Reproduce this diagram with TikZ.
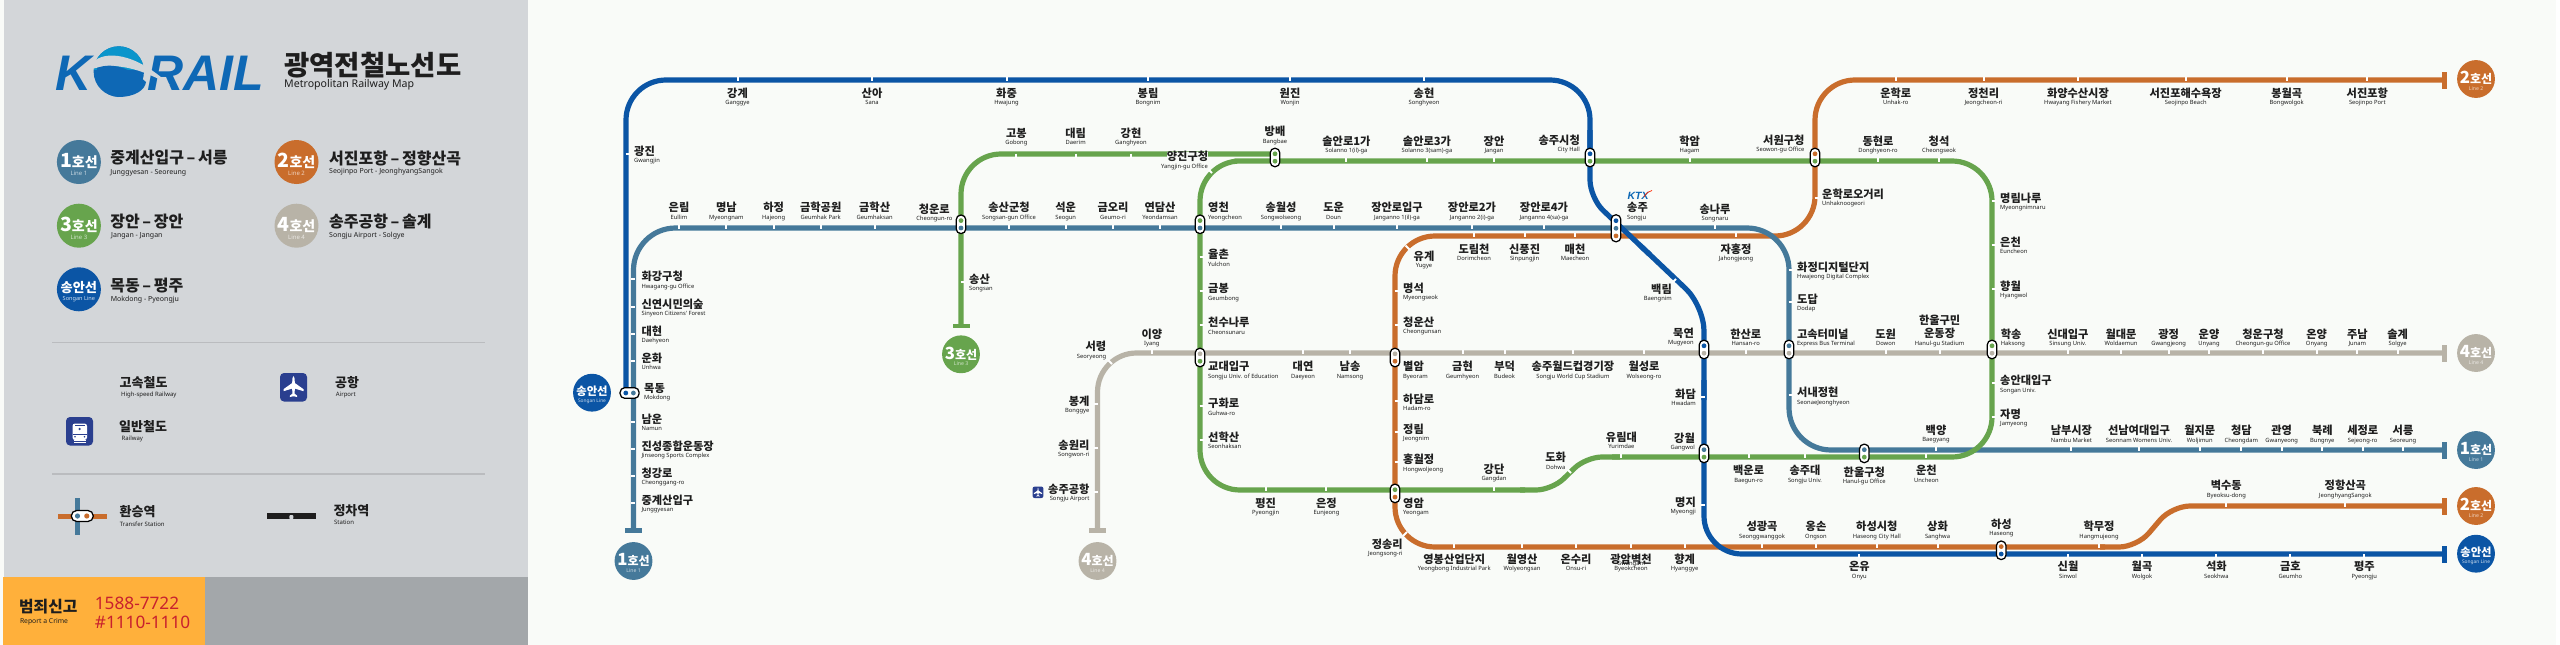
\documentclass[tikz,border=0pt]{standalone}
\usepackage{fontspec}
\newfontfamily\kofont{Noto Sans CJK KR}
\newfontfamily\enfont{Noto Sans}
\newfontfamily\logofont{Liberation Sans}
\definecolor{bgc}{HTML}{F9FBF8}
\definecolor{panel}{HTML}{D3D6D9}
\definecolor{panelb}{HTML}{A3A7AA}
\definecolor{orangeb}{HTML}{FFB03B}
\definecolor{crimered}{HTML}{C8202E}
\definecolor{lone}{HTML}{45799A}
\definecolor{ltwo}{HTML}{C96D2C}
\definecolor{lthree}{HTML}{67A44D}
\definecolor{lfour}{HTML}{B8B3A7}
\definecolor{lsong}{HTML}{0B55A5}
\definecolor{icon}{HTML}{2A3F8F}
\definecolor{kblue}{HTML}{0E68B5}
\definecolor{ink}{HTML}{1E1E1E}
\tikzset{
 ko/.style={inner sep=0pt,text=ink,font=\fontsize{11.2}{12}\selectfont\kofont\bfseries,text height=9.3pt,text depth=1pt},
 en/.style={inner sep=0pt,text=ink,font=\fontsize{5.8}{5.8}\selectfont\enfont,text height=4.6pt,text depth=1.2pt,align=center},
 lko/.style={inner sep=0pt,text=ink,font=\fontsize{16}{16}\selectfont\kofont\bfseries,anchor=west},
 len/.style={inner sep=0pt,text=ink,font=\fontsize{7}{8}\selectfont\enfont,anchor=west},
 sko/.style={inner sep=0pt,text=ink,font=\fontsize{13}{14}\selectfont\kofont\bfseries,anchor=west},
 sen/.style={inner sep=0pt,text=ink,font=\fontsize{6}{7}\selectfont\enfont,anchor=west},
 railline/.style={line width=5.2pt,line cap=butt,line join=round},
 pill/.style={draw=black,line width=1.25pt,fill=white,rounded corners=4.6pt,inner sep=0pt,minimum width=9.6pt},
 tick/.style={draw=white,line width=2pt},
 badgec/.style={circle,inner sep=0pt,minimum size=44pt,transform shape},
 bmain/.style={inner sep=0pt,text=white,transform shape},
 bsub/.style={inner sep=0pt,transform shape,font=\fontsize{6}{6}\selectfont\enfont},
 tbarv/.style={inner sep=0pt,minimum width=4.6pt,minimum height=17pt},
 tbarh/.style={inner sep=0pt,minimum width=17pt,minimum height=4.6pt},
}
\newcommand\lab[6]{\node[ko,anchor=#2] (#1) at (#3,#4) {#5};\node[en,anchor=#2] (#1e) at (#3,#4+9.9) {#6};}
\newcommand\ipv[6]{\node[pill,minimum height=#6pt] (#1) at (#2,#3) {};\fill[#4] (#2,#3-3.7) circle (2.4pt);\fill[#5] (#2,#3+3.7) circle (2.4pt);}
\newcommand\badge[7]{%
 \node[badgec,scale=#4,fill=#5] (#1) at (#2,#3) {};
 \node[bmain,scale=#4] (#1m) at (#2,#3-1*#4) {\fontsize{19.5}{20}\selectfont\kofont\bfseries #6\fontsize{14}{14}\selectfont 호선};
 \node[bsub,scale=#4,text=white!70!#5] (#1s) at (#2,#3+11.3*#4) {#7};}
\newcommand\sbadge[5]{%
 \node[badgec,scale=#4,fill=#5] (#1) at (#2,#3) {};
 \node[bmain,scale=#4] (#1m) at (#2,#3-1.5*#4) {\fontsize{13.2}{14}\selectfont\kofont\bfseries 송안선};
 \node[bsub,scale=#4,text=white!80!#5] (#1s) at (#2,#3+10*#4) {\fontsize{5.6}{6}\selectfont Songan Line};}
\newcommand\planeshape{(0,-11) .. controls (1.1,-10) and (1.2,-8) .. (1.3,-4) -- (10,2.2) -- (10,4.2) -- (1.4,1.6) -- (1,6.6) -- (3.6,8.6) -- (3.6,10) -- (0,9.2) -- (-3.6,10) -- (-3.6,8.6) -- (-1,6.6) -- (-1.4,1.6) -- (-10,4.2) -- (-10,2.2) -- (-1.3,-4) .. controls (-1.2,-8) and (-1.1,-10) .. (0,-11) -- cycle}
\begin{document}
\begin{tikzpicture}[x=1pt,y=-1pt]
\useasboundingbox (0,0) rectangle (2560,645);
\fill[white] (0,0) rectangle (2560,645);
\fill[bgc] (0,0) rectangle (2556,645);
\fill[panel] (4,0) rectangle (528,645);
\fill[panelb] (205,577) rectangle (528,645);
\fill[orangeb] (3.4,577) rectangle (205,645);

% ---------- legend ----------
\node[inner sep=0pt,anchor=base west,text=kblue,font=\fontsize{50}{50}\selectfont\logofont\bfseries\itshape] (logok) at (55,90.7) {K};
\node[inner sep=0pt,anchor=base west,text=kblue,font=\fontsize{50}{50}\selectfont\logofont\bfseries\itshape] (logor) at (147,90.7) {RAIL};
\fill[kblue] (118.8,71.5) circle (25.2pt);
\begin{scope}
\clip (118.8,71.5) circle (25.2pt);
\fill[kblue!70!cyan] (90,40) rectangle (146,70);
\end{scope}
\fill[panel] (92,63) .. controls (104,50) and (135,52) .. (170,85) .. controls (140,68) and (115,62) .. (92,69) -- cycle;
\fill[kblue] (97,68) .. controls (112,62) and (130,68) .. (146,82) .. controls (145,90) and (135,97) .. (118,97) .. controls (104,96) and (95,84) .. (97,68) -- cycle;
\node[inner sep=0pt,anchor=west,text=ink,font=\fontsize{27.5}{28}\selectfont\kofont\bfseries] (title) at (284,65) {광역전철노선도};
\node[inner sep=0pt,anchor=west,text=ink,font=\fontsize{10.6}{12}\selectfont\enfont\bfseries] (subtitle) at (284,85) {Metropolitan Railway Map};

\badge{lg1}{78.9}{162}{1}{lone}{1}{Line 1}
\badge{lg2}{296.5}{162}{1}{ltwo}{2}{Line 2}
\badge{lg3}{78.9}{225.7}{1}{lthree}{3}{Line 3}
\badge{lg4}{296.5}{225.7}{1}{lfour}{4}{Line 4}
\sbadge{lgs}{78.9}{289.3}{1}{lsong}
\node[lko] (lt1) at (110.2,158) {중계산입구\,–\,서릉};
\node[len] (le1) at (110.2,172.7) {Junggyesan - Seoreung};
\node[lko] (lt2) at (329,158) {서진포항\,–\,정향산곡};
\node[len] (le2) at (329,172) {Seojinpo Port - JeonghyangSangok};
\node[lko] (lt3) at (110.2,221.7) {장안\,–\,장안};
\node[len] (le3) at (111,236.3) {Jangan - Jangan};
\node[lko] (lt4) at (329,221.7) {송주공항\,–\,솔계};
\node[len] (le4) at (329,236) {Songju Airport - Solgye};
\node[lko] (lt5) at (110.2,285.7) {목동\,–\,평주};
\node[len] (le5) at (110.6,300) {Mokdong - Pyeongju};
\draw[panel!88!black,line width=1pt] (52,342.3) -- (485,342.3);
\draw[panel!88!black,line width=1.4pt] (52,474) -- (485,474);
\node[sko] (lhs) at (119.5,382.7) {고속철도};
\node[sen] (lhse) at (121,395) {High-speed Railway};
\node[sko] (lap) at (335,382.3) {공항};
\node[sen] (lape) at (335.7,395) {Airport};
\node[sko] (lrw) at (119,426.7) {일반철도};
\node[sen] (lrwe) at (121.5,439) {Railway};
\node[sko] (ltr) at (119.5,511.7) {환승역};
\node[sen] (ltre) at (119.7,524) {Transfer Station};
\node[sko] (lst) at (333.3,510.7) {정차역};
\node[sen] (lste) at (334,522.7) {Station};
% airport icon
\fill[icon,rounded corners=4pt] (280,373) rectangle (307,401.5);
\begin{scope}[shift={(293.5,387)},scale=1]
\fill[white] \planeshape;
\end{scope}
% rail icon
\fill[icon,rounded corners=4pt] (66,417) rectangle (93,445.5);
\fill[white,rounded corners=2.5pt] (72.5,423.5) rectangle (87,440);
\fill[icon] (75,425.2) rectangle (84.6,426.2);
\fill[icon] (79.6,429) circle (1.3pt);
\fill[icon] (72.5,434.2) rectangle (87,435);
\fill[icon] (75,436.8) circle (0.9pt);\fill[icon] (84.5,436.8) circle (0.9pt);
\fill[white] (74,440) rectangle (85.5,443);
\fill[icon] (72,441) rectangle (88,441.7);
% transfer icon
\draw[ltwo,line width=5pt] (58,516) -- (107,516);
\draw[lone,line width=5pt] (77.5,498) -- (77.5,534.7);
\node[pill,minimum width=22pt,minimum height=11pt,rounded corners=5.4pt] (ltpill) at (82.3,516) {};
\fill[lone] (77.5,516) circle (2.6pt);
\fill[ltwo] (86.8,516) circle (2.6pt);
% station icon
\fill[ink] (267,513.3) rectangle (316,519);
\fill[panel,rounded corners=1pt] (289.4,519.2) -- (289.4,515) -- (293.4,515) -- (293.4,519.2) -- cycle;
% report box
\node[inner sep=0pt,anchor=west,text=ink,font=\fontsize{15.8}{16}\selectfont\kofont\bfseries] (crimek) at (19,606.7) {범죄신고};
\node[inner sep=0pt,anchor=west,text=ink,font=\fontsize{6.8}{7}\selectfont\enfont] (crimee) at (19.8,622.3) {Report a Crime};
\node[inner sep=0pt,anchor=west,text=crimered,font=\fontsize{17.2}{18}\selectfont\enfont\bfseries] (crimea) at (94.7,603.3) {1588-7722};
\node[inner sep=0pt,anchor=west,text=crimered,font=\fontsize{17.2}{18}\selectfont\enfont\bfseries] (crimeb) at (94.7,622) {\#1110-1110};

% ---------- line ends ----------
\node[tbarh,fill=lone] (e1a) at (633.5,530.5) {};
\node[tbarv,fill=lone] (e1b) at (2444.5,450) {};
\node[tbarv,fill=ltwo] (e2a) at (2444.5,80) {};
\node[tbarv,fill=ltwo] (e2b) at (2444.5,506) {};
\node[tbarh,fill=lthree] (e3a) at (961,326) {};
\node[tbarh,fill=lfour] (e4a) at (1097.5,530.5) {};
\node[tbarv,fill=lfour] (e4b) at (2444.5,353) {};
\node[tbarv,fill=lsong] (esb) at (2444.5,554) {};
\coordinate (sa) at (626,393);
\coordinate (b1) at (1275,154);
\coordinate (b2) at (1275,161);

% ---------- lines ----------
\draw[railline,lfour,rounded corners=39pt] (e4a.center) -- (1097.5,353) -- (e4b.center);
\draw[railline,ltwo,rounded corners=40pt] (e2a.center) -- (1815,80) -- (1815,236) -- (1395,236) -- (1395,547) -- (2105,547);
\draw[railline,ltwo,rounded corners=18pt] (2100,547) -- (2137,547) -- (2172,506) -- (e2b.center);
\draw[railline,lone,rounded corners=42pt] (e1a.center) -- (633.5,228) -- (1789,228) -- (1789,450) -- (e1b.center);
\draw[railline,lthree,rounded corners=40pt] (e3a.center) -- (961,154) -- (b1);
\draw[railline,lthree,rounded corners=40pt] (1525,490) -- (1200,490) -- (1200,161) -- (b2) -- (1992,161) -- (1992,457) -- (1612,457);
\draw[railline,lthree,rounded corners=16pt] (1520,490) -- (1552,490) -- (1586,457) -- (1620,457);
\draw[railline,lsong,rounded corners=40pt] (sa) -- (626,80) -- (1590,80) -- (1590,150);
\draw[railline,lsong,rounded corners=18pt] (1590,130) -- (1590,198) -- (1650,254.8);
\draw[railline,lsong,rounded corners=25pt] (1640,245.3) -- (1704,306) -- (1704,400);
\draw[railline,lsong,rounded corners=38pt] (1704,380) -- (1704,554) -- (esb.center);

% ---------- ticks ----------
\foreach \x in {737.5,872,1006.5,1148,1290,1424,1895.7,1983.6,2077.9,2185.7,2286.7,2367.3}
  \draw[tick] (\x,76.5) -- (\x,80.5);
\foreach \x in {679,726.4,773.6,820.7,874.6,1009,1065.7,1113,1160,1281,1333.6,1397,1472,1544,1715}
  \draw[tick] (\x,224.5) -- (\x,228.5);
\foreach \x in {1016.4,1075.7,1131}
  \draw[tick] (\x,153.5) -- (\x,157.5);
\foreach \x in {1346.4,1427,1494,1689.6,1878,1939}
  \draw[tick] (\x,157.5) -- (\x,161.5);
\foreach \x in {1152,1303,1350,1462.5,1504.6,1572.9,1644,1745.7,1885.7,1939.6,2067.9,2121,2168.6,2209,2263,2316.7,2357.3,2397.7}
  \draw[tick] (\x,349.5) -- (\x,353.5);
\foreach \x in {1474,1524.6,1575,1736}
  \draw[tick] (\x,232.5) -- (\x,236.5);
\foreach \x in {1265.7,1326.4,1494}
  \draw[tick] (\x,486.5) -- (\x,490.5);
\foreach \x in {1621.4,1748.6,1805,1926.4}
  \draw[tick] (\x,453.5) -- (\x,457.5);
\foreach \x in {1936,2071.4,2139,2199.7,2241.3,2281.7,2322.3,2362.7,2403}
  \draw[tick] (\x,446.5) -- (\x,450.5);
\foreach \x in {1454.3,1522,1576,1631,1684.6,1762,1816,1876.8,1937.5,2099}
  \draw[tick] (\x,543.5) -- (\x,547.5);
\foreach \x in {2226.3,2345.3}
  \draw[tick] (\x,502.5) -- (\x,506.5);
\foreach \x in {1859.3,2068,2142,2216.3,2290.3,2364.3}
  \draw[tick] (\x,554) -- (\x,558);
\foreach \y in {279,306.7,333.7,360.7,421.7,448.7,475.7,503}
  \draw[tick] (630.8,\y) -- (635,\y);
\draw[tick] (625.5,154) -- (629.5,154);
\draw[tick] (960.5,281.7) -- (964.5,281.7);
\foreach \y in {257.3,291.3,325.3,406.3,440}
  \draw[tick] (1199.5,\y) -- (1203.5,\y);
\foreach \y in {290.7,324.7,401.3,431.7,462.3}
  \draw[tick] (1394.5,\y) -- (1398.5,\y);
\foreach \y in {201,244.7,289,383.3,416.7}
  \draw[tick] (1991.5,\y) -- (1995.5,\y);
\foreach \y in {269.7,301.7,395.3}
  \draw[tick] (1788.5,\y) -- (1792.5,\y);
\draw[tick] (1814.5,197.7) -- (1818.5,197.7);
\foreach \y in {404,448,492}
  \draw[tick] (1094,\y) -- (1098,\y);
\foreach \y in {397,505}
  \draw[tick] (1700.5,\y) -- (1704.5,\y);
\draw[tick] (1208.5,169.5) -- (1212,173);
\draw[tick] (1405.5,245.5) -- (1409.5,249.5);
\draw[tick] (1108,360) -- (1112,364);
\draw[tick] (1403,536) -- (1407,532);
\draw[tick] (1672,283) -- (1676,279);
\draw[tick] (1567.5,469.5) -- (1571,473);

% ---------- interchanges ----------
\ipv{i01}{961}{224.3}{lthree}{lone}{18.5}
\ipv{i02}{1200}{224.3}{lthree}{lone}{18.5}
\ipv{i03}{1275}{157.5}{lthree}{lthree}{18.5}
\ipv{i04}{1590}{157.5}{lsong}{lthree}{18.5}
\ipv{i05}{1815}{157.5}{ltwo}{lthree}{18.5}
\ipv{i06}{1704}{349.5}{lsong}{lfour}{18.5}
\ipv{i07}{1789}{349.5}{lone}{lfour}{18.5}
\ipv{i08}{1992}{349.5}{lthree}{lfour}{18.5}
\ipv{i09}{1200}{357.5}{lfour}{lthree}{18.5}
\ipv{i10}{1395}{357.5}{lfour}{ltwo}{18.5}
\ipv{i11}{1395}{493.4}{lthree}{ltwo}{18.5}
\ipv{i12}{1704}{453.4}{lone}{lthree}{18.5}
\ipv{i13}{1864.3}{453.4}{lone}{lthree}{18.5}
\ipv{i14}{2001.2}{550.3}{ltwo}{lsong}{18.5}
\node[pill,minimum height=27pt] (i15) at (1616,228.3) {};
\fill[lsong] (1616,220.7) circle (2.4pt);
\fill[lone] (1616,228.3) circle (2.4pt);
\fill[ltwo] (1616,235.9) circle (2.4pt);
\node[pill,minimum width=19pt,minimum height=10.6pt] (i16) at (629.6,393) {};
\fill[lsong] (625.8,393) circle (2.4pt);
\fill[lone] (633.4,393) circle (2.4pt);

% ---------- terminals ----------
\badge{b1a}{633.5}{561}{.86}{lone}{1}{Line 1}
\badge{b4a}{1097.5}{561}{.86}{lfour}{4}{Line 4}
\badge{b3a}{961}{354.3}{.86}{lthree}{3}{Line 3}
\sbadge{bsa}{592}{392.7}{.86}{lsong}
\badge{b2a}{2476}{79}{.86}{ltwo}{2}{Line 2}
\badge{b4b}{2476}{353}{.86}{lfour}{4}{Line 4}
\badge{b1b}{2476}{450}{.86}{lone}{1}{Line 1}
\badge{b2b}{2476}{506}{.86}{ltwo}{2}{Line 2}
\sbadge{bsb}{2476}{553.7}{.86}{lsong}

% ---------- labels: Songan top ----------
\lab{a1}{center}{737.5}{93}{강계}{Ganggye}
\lab{a2}{center}{872}{93}{산아}{Sana}
\lab{a3}{center}{1006.5}{93}{화중}{Hwajung}
\lab{a4}{center}{1148}{93}{봉림}{Bongnim}
\lab{a5}{center}{1290}{93}{원진}{Wonjin}
\lab{a6}{center}{1424}{93}{송현}{Songhyeon}
\lab{a7}{west}{634}{151}{광진}{Gwangjin}
% Line 1 row
\lab{c1}{center}{679}{207.7}{은림}{Eullim}
\lab{c2}{center}{726.4}{207.7}{명남}{Myeongnam}
\lab{c3}{center}{773.6}{207.7}{하정}{Hajeong}
\lab{c4}{center}{820.7}{207.7}{금학공원}{Geumhak Park}
\lab{c5}{center}{874.6}{207.7}{금학산}{Geumhaksan}
\lab{c6}{center}{934.3}{209}{청운로}{Cheongun-ro}
\lab{c7}{center}{1009}{207.7}{송산군청}{Songsan-gun Office}
\lab{c8}{center}{1065.7}{207.7}{석운}{Seogun}
\lab{c9}{center}{1113}{207.7}{금오리}{Geumo-ri}
\lab{c10}{center}{1160}{207.7}{연담산}{Yeondamsan}
\lab{c11}{west}{1208}{207.7}{영천}{Yeongcheon}
\lab{c12}{center}{1281}{207.7}{송월성}{Songwolseong}
\lab{c13}{center}{1333.6}{207.7}{도운}{Doun}
\lab{c14}{center}{1397}{207.7}{장안로입구}{Janganno 1(il)-ga}
\lab{c15}{center}{1472}{207.7}{장안로2가}{Janganno 2(i)-ga}
\lab{c16}{center}{1544}{207.7}{장안로4가}{Janganno 4(sa)-ga}
\lab{c17}{west}{1627}{207.7}{송주}{Songju}
\lab{c18}{center}{1715}{209}{송나루}{Songnaru}
% Line 1 vertical
\lab{d1}{west}{641.4}{276.7}{화강구청}{Hwagang-gu Office}
\lab{d2}{west}{641.4}{304}{신연시민의숲}{Sinyeon Citizens' Forest}
\lab{d3}{west}{641.4}{331}{대현}{Daehyeon}
\lab{d4}{west}{641.4}{358}{운화}{Unhwa}
\lab{d5}{west}{644}{388}{목동}{Mokdong}
\lab{d6}{west}{641.4}{419}{남운}{Namun}
\lab{d7}{west}{641.4}{446.3}{진성종합운동장}{Jinseong Sports Complex}
\lab{d8}{west}{641.4}{473}{청강로}{Cheonggang-ro}
\lab{d9}{west}{641.4}{500.3}{중계산입구}{Junggyesan}
\lab{d10}{west}{969}{279}{송산}{Songsan}
% Line 3 upper
\lab{f1}{center}{1016.4}{133}{고봉}{Gobong}
\lab{f2}{center}{1075.7}{133}{대림}{Daerim}
\lab{f3}{center}{1131}{133}{강현}{Ganghyeon}
\node[ko,fill=bgc] (f4) at (1187.5,156.7) {양진구청};
\node[en] (f4e) at (1184.5,166.4) {Yangjin-gu Office};
\lab{f5}{center}{1275}{131.7}{방배}{Bangbae}
\lab{f6}{center}{1346.4}{141.3}{솔안로1가}{Solanno 1(il)-ga}
\lab{f7}{center}{1427}{141.3}{솔안로3가}{Solanno 3(sam)-ga}
\lab{f8}{center}{1494}{141.3}{장안}{Jangan}
\lab{f9}{east}{1580}{140.3}{송주시청}{City Hall}
\lab{f10}{center}{1689.6}{141}{학암}{Hagam}
\lab{f11}{east}{1804.6}{140.3}{서원구청}{Seowon-gu Office}
\lab{f12}{center}{1878}{141}{동현로}{Donghyeon-ro}
\lab{f13}{center}{1939}{141}{청석}{Cheongseok}
% Line 2 top
\lab{g1}{center}{1895.7}{93}{운학로}{Unhak-ro}
\lab{g2}{center}{1983.6}{93}{정천리}{Jeongcheon-ri}
\lab{g3}{center}{2077.9}{93}{화양수산시장}{Hwayang Fishery Market}
\lab{g4}{center}{2185.7}{93}{서진포해수욕장}{Seojinpo Beach}
\lab{g5}{center}{2286.7}{93}{봉월곡}{Bongwolgok}
\lab{g6}{center}{2367.3}{93}{서진포항}{Seojinpo Port}
\lab{g7}{west}{1822}{194.3}{운학로오거리}{Unhaknoogeori}
% Line 3 right
\lab{h1}{west}{2000}{198}{명림나루}{Myeongnimnaru}
\lab{h2}{west}{2000}{242}{은천}{Euncheon}
\lab{h3}{west}{2000}{286.3}{향월}{Hyangwol}
\lab{h4}{west}{2000.7}{334}{학송}{Haksong}
\lab{h5}{west}{2000}{380.7}{송안대입구}{Songan Univ.}
\lab{h6}{west}{2000}{414}{자명}{Jamyeong}
% Line 4
\lab{j1}{center}{2067.9}{334}{신대입구}{Sinsung Univ.}
\lab{j2}{center}{2121}{334}{월대문}{Woldaemun}
\lab{j3}{center}{2168.6}{334}{광정}{Gwangjeong}
\lab{j4}{center}{2209}{334}{운양}{Unyang}
\lab{j5}{center}{2263}{334}{청운구청}{Cheongun-gu Office}
\lab{j6}{center}{2316.7}{334}{온양}{Onyang}
\lab{j7}{center}{2357.3}{334}{주남}{Junam}
\lab{j8}{center}{2397.7}{334}{솔계}{Solgye}
\lab{j9}{center}{1745.7}{334}{한산로}{Hansan-ro}
\lab{j10}{center}{1885.7}{334}{도원}{Dowon}
\node[ko] (j11a) at (1939.6,320) {한울구민};
\lab{j11}{center}{1939.6}{333.5}{운동장}{Hanul-gu Stadium}
\lab{j12}{west}{1796.8}{334}{고속터미널}{Express Bus Terminal}
\lab{j13}{east}{1694}{333.3}{묵연}{Mugyeon}
\lab{j14}{center}{1644}{366.7}{월성로}{Wolseong-ro}
\lab{j15}{west}{1208}{366.7}{교대입구}{Songju Univ. of Education}
\lab{j16}{center}{1303}{366.7}{대연}{Daeyeon}
\lab{j17}{center}{1350}{366.7}{남송}{Namsong}
\lab{j18}{west}{1403}{366.7}{별암}{Byeoram}
\lab{j19}{center}{1462.5}{366.7}{금현}{Geumhyeon}
\lab{j20}{center}{1504.6}{366.7}{부덕}{Budeok}
\lab{j21}{center}{1572.9}{366.7}{송주월드컵경기장}{Songju World Cup Stadium}
\lab{j22}{center}{1151.8}{334}{이양}{Iyang}
\lab{j23}{east}{1106.4}{346.7}{서령}{Seoryeong}
\lab{j24}{east}{1089.6}{401}{봉계}{Bonggye}
\lab{j25}{east}{1089.6}{445}{송원리}{Songwon-ri}
\lab{j26}{east}{1089.6}{489}{송주공항}{Songju Airport}
\fill[icon,rounded corners=2pt] (1032.6,486.6) rectangle (1043.4,498);
\begin{scope}[shift={(1038,492.3)},scale=.42]
\fill[white] \planeshape;
\end{scope}
% Line 3 left
\lab{k1}{west}{1208}{254.7}{율촌}{Yulchon}
\lab{k2}{west}{1208}{288.7}{금봉}{Geumbong}
\lab{k3}{west}{1208}{322.7}{천수나루}{Cheonsunaru}
\lab{k4}{west}{1208}{403.7}{구화로}{Guhwa-ro}
\lab{k5}{west}{1208}{437.3}{선학산}{Seonhaksan}
\lab{k6}{center}{1265.7}{503}{평진}{Pyeongjin}
\lab{k7}{center}{1326.4}{503}{은정}{Eunjeong}
\lab{k8}{west}{1403}{503}{영암}{Yeongam}
\lab{k9}{center}{1494}{469.3}{강단}{Gangdan}
\lab{k10}{center}{1555.7}{457.7}{도화}{Dohwa}
\lab{k11}{center}{1621.4}{437.3}{유림대}{Yurimdae}
\lab{k12}{east}{1695}{438}{강월}{Gangwol}
\lab{k13}{center}{1748.6}{470.7}{백운로}{Baegun-ro}
\lab{k14}{center}{1805}{470.7}{송주대}{Songju Univ.}
\lab{k15}{center}{1864.3}{472}{한울구청}{Hanul-gu Office}
\lab{k16}{center}{1926.4}{470.7}{운천}{Uncheon}
% Line 1 lower
\lab{m1}{center}{1936}{430}{백양}{Baegyang}
\lab{m2}{center}{2071.4}{430.7}{남부시장}{Nambu Market}
\lab{m3}{center}{2139}{430.7}{선남여대입구}{Seonnam Womens Univ.}
\lab{m4}{center}{2199.7}{430.7}{월지문}{Woljimun}
\lab{m5}{center}{2241.3}{430.7}{청담}{Cheongdam}
\lab{m6}{center}{2281.7}{430.7}{관영}{Gwanyeong}
\lab{m7}{center}{2322.3}{430.7}{북례}{Bungnye}
\lab{m8}{center}{2362.7}{430.7}{세정로}{Sejeong-ro}
\lab{m9}{center}{2403}{430.7}{서릉}{Seoreung}
\lab{m10}{west}{1797}{392.7}{서내정현}{SeonaeJeonghyeon}
\lab{m11}{west}{1797}{267.3}{화정디지털단지}{Hwajeong Digital Complex}
\lab{m12}{west}{1797}{299.3}{도답}{Dodap}
% Songan
\lab{n1}{east}{1696}{394}{화담}{Hwadam}
\lab{n2}{east}{1696}{502}{명지}{Myeongji}
\lab{n3}{east}{1672}{289.3}{백림}{Baengnim}
% Line 2 inner
\lab{p1}{center}{1424}{256.3}{유계}{Yugye}
\lab{p2}{center}{1474}{249}{도림천}{Dorimcheon}
\lab{p3}{center}{1524.6}{249}{신풍진}{Sinpungjin}
\lab{p4}{center}{1575}{249}{매천}{Maecheon}
\lab{p5}{center}{1736}{249}{자홍정}{Jahongjeong}
\lab{p6}{west}{1403}{288.3}{명석}{Myeongseok}
\lab{p7}{west}{1403}{322.3}{청운산}{Cheongunsan}
\lab{p8}{west}{1403}{399}{하담로}{Hadam-ro}
\lab{p9}{west}{1403}{429}{정림}{Jeongnim}
\lab{p10}{west}{1403}{459.7}{홍월정}{Hongwoljeong}
\lab{p11}{east}{1402.9}{544}{정송리}{Jeongsong-ri}
\lab{p12}{center}{1454.3}{559}{영봉산업단지}{Yeongbong Industrial Park}
\lab{p13}{center}{1522}{559}{월영산}{Wolyeongsan}
\lab{p14}{center}{1576}{559}{온수리}{Onsu-ri}
\node[ko] (p15) at (1631,559) {광암벽천};
\node[en,anchor=north] (p15e) at (1631,566) {Gwangam\\[-.2pt]Byeokcheon};
\lab{p16}{center}{1684.6}{559.3}{향계}{Hyanggye}
\lab{p17}{center}{1762}{526.7}{성광곡}{Seonggwanggok}
\lab{p18}{center}{1816}{526.7}{옹손}{Ongson}
\lab{p19}{center}{1876.8}{526.7}{하성시청}{Haseong City Hall}
\lab{p20}{center}{1937.5}{526.7}{상화}{Sanghwa}
\lab{p21}{center}{2001.4}{524}{하성}{Haseong}
\lab{p22}{center}{2099}{526.7}{학무정}{Hangmujeong}
\lab{p23}{center}{2226.3}{485.7}{벽수동}{Byeoksu-dong}
\lab{p24}{center}{2345.3}{485.7}{정항산곡}{JeonghyangSangok}
\lab{q1}{center}{1859.3}{566.7}{온유}{Onyu}
\lab{q2}{center}{2068}{566.7}{신월}{Sinwol}
\lab{q3}{center}{2142}{566.7}{월곡}{Wolgok}
\lab{q4}{center}{2216.3}{566.7}{석화}{Seokhwa}
\lab{q5}{center}{2290.3}{566.7}{금호}{Geumho}
\lab{q6}{center}{2364.3}{566.7}{평주}{Pyeongju}
% KTX mark
\node[inner sep=0pt,text=kblue,font=\fontsize{10.5}{11}\selectfont\logofont\bfseries\itshape] (ktx) at (1638,196) {KTX};
\draw[red!70!orange,line width=.7pt] (1644,197) .. controls (1646,193) and (1649,191) .. (1652,190.5);
\end{tikzpicture}
\end{document}
